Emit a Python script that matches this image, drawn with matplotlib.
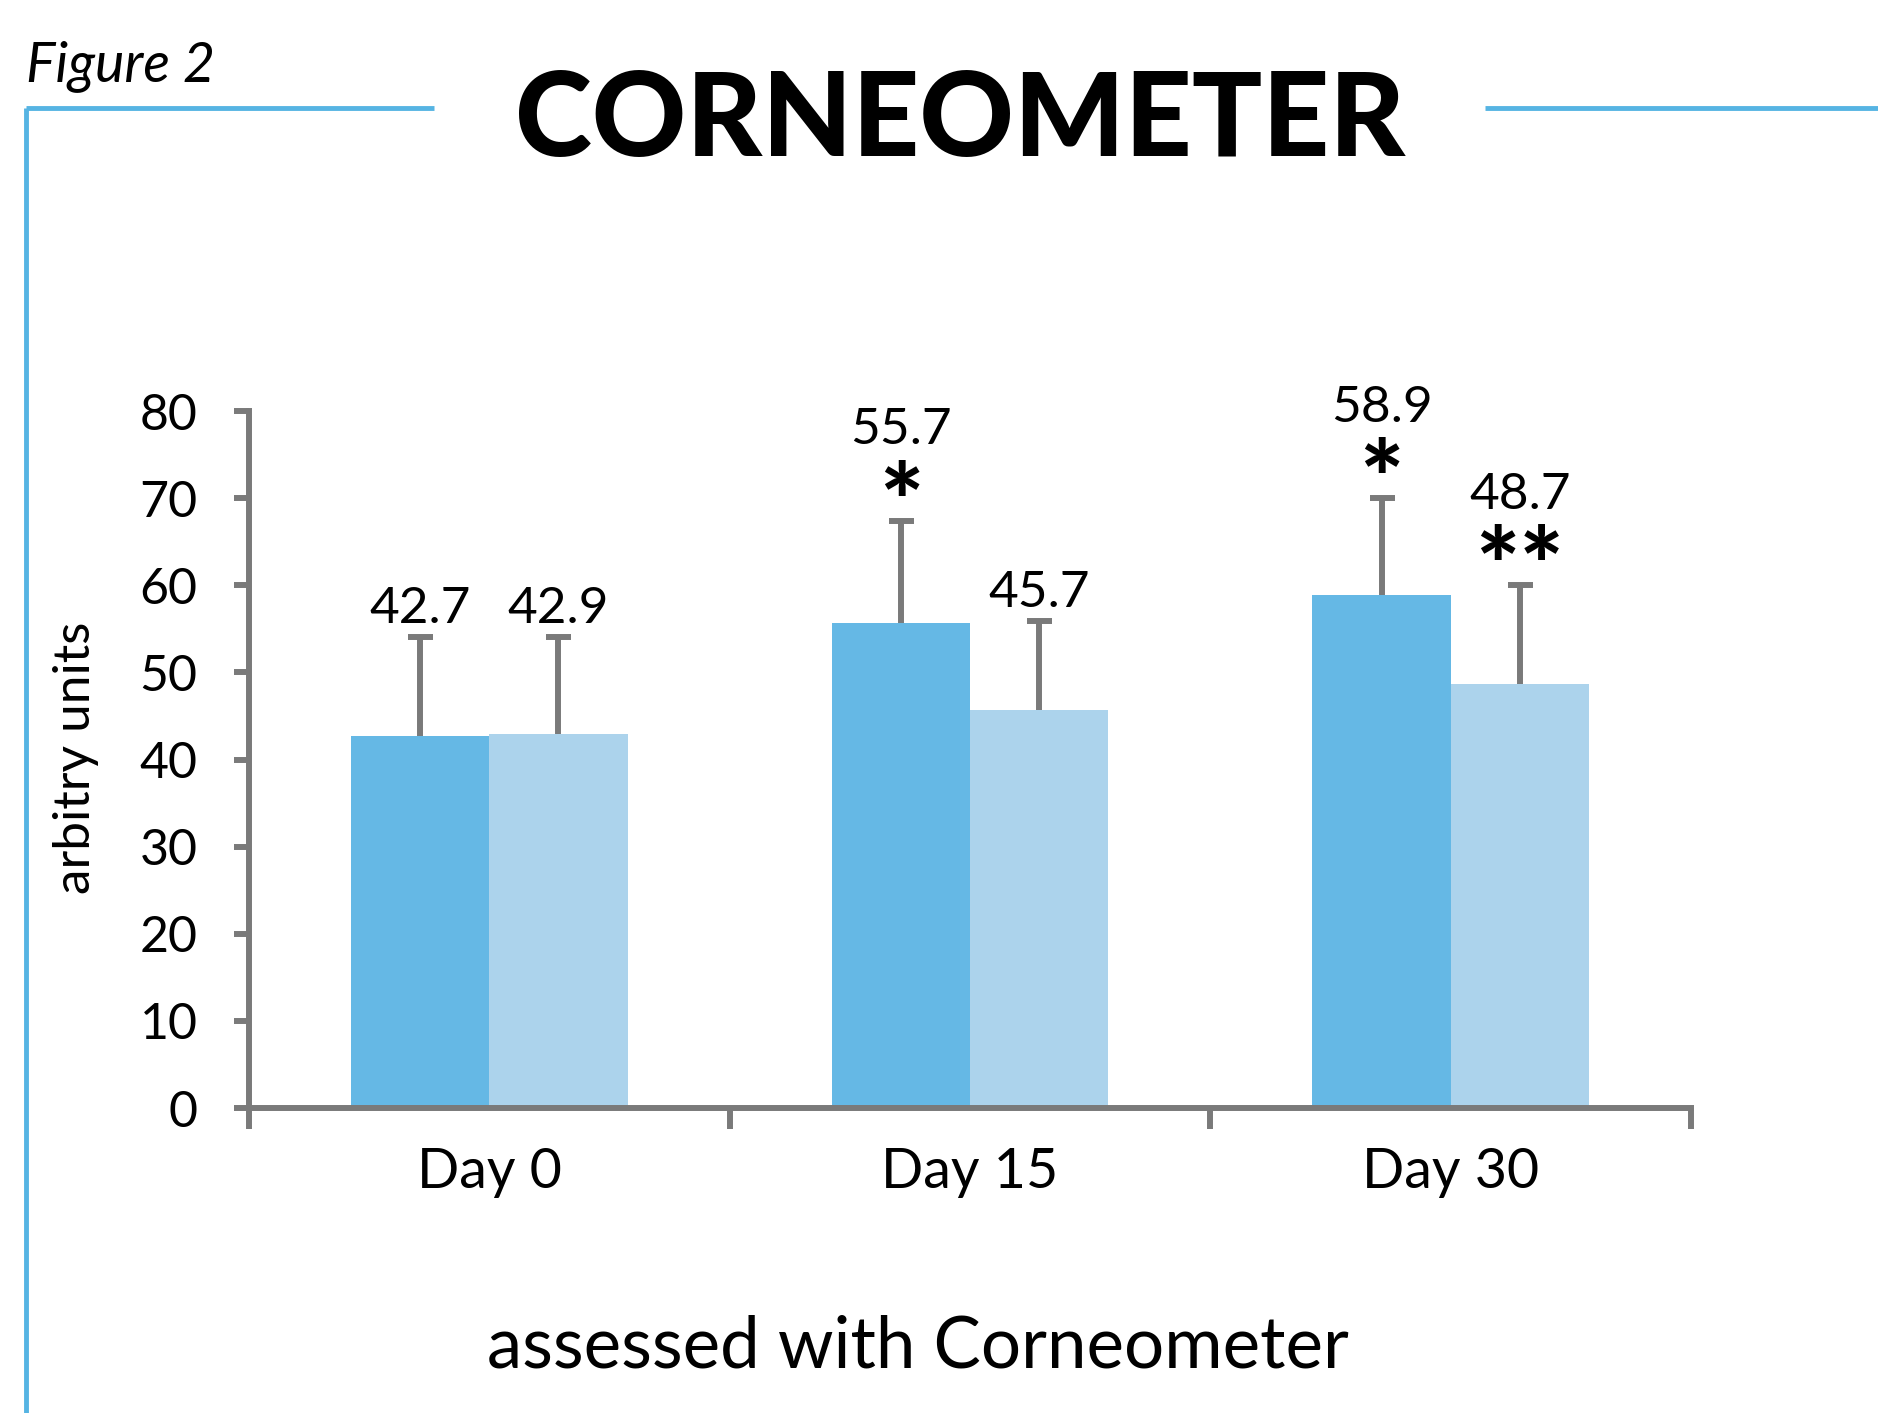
import numpy as np
import matplotlib
matplotlib.use('Agg')
import matplotlib.pyplot as plt
from matplotlib.lines import Line2D

plt.rcParams['font.family'] = ['Lato', 'DejaVu Sans']

days = ['Day 0', 'Day 15', 'Day 30']
dark_vals = [42.7, 55.7, 58.9]
light_vals = [42.9, 45.7, 48.7]
dark_err = [11.4, 11.7, 11.1]
light_err = [11.2, 10.2, 11.3]
dark_stars = ['', '*', '*']
light_stars = ['', '', '**']

dark = '#65b8e5'
light = '#acd3ec'
gray = '#7a7a7a'
frame_blue = '#56b4e3'

fig = plt.figure(figsize=(18.78, 14.13), dpi=100)
ax = fig.add_axes([0.1326, 0.2158, 0.7678, 0.4933])

x = np.arange(len(days))
w = 0.2875

for xs, vals, errs, stars, col in [(x - w/2, dark_vals, dark_err, dark_stars, dark),
                                   (x + w/2, light_vals, light_err, light_stars, light)]:
    vals = np.array(vals)
    tops = vals + np.array(errs)
    ax.bar(xs, vals, w, color=col, linewidth=0, zorder=2)
    # upper whisker only, cap drawn as a marker
    ax.vlines(xs, vals, tops, color=gray, lw=4.3, zorder=1)
    ax.plot(xs, tops, ls='none', marker='_', markersize=18, mew=4.3, color=gray,
            zorder=1, clip_on=False)
    for xi, v, top, s in zip(xs, vals, tops, stars):
        if s:
            ax.annotate(s, xy=(xi, top), xytext=(0, -13), textcoords='offset points',
                        ha='center', va='baseline', fontsize=75, fontweight='black',
                        annotation_clip=False)
            off = 55
        else:
            off = 10
        ax.annotate(f'{v:.1f}', xy=(xi, top), xytext=(0, off), textcoords='offset points',
                    ha='center', va='baseline', fontsize=37, annotation_clip=False)

ax.set_xlim(-0.5, 2.5)
ax.set_ylim(0, 80)
for sp in ['top', 'right']:
    ax.spines[sp].set_visible(False)
for sp in ['left', 'bottom']:
    ax.spines[sp].set_color(gray)
    ax.spines[sp].set_linewidth(4.3)

ax.set_yticks(np.arange(0, 81, 10))
ax.tick_params(axis='y', direction='out', length=11, width=4.3, color=gray,
               labelsize=36, pad=26)
ax.set_xticks([-0.5, 0.5, 1.5, 2.5])
ax.set_xticklabels([])
ax.set_xticks(x, minor=True)
ax.set_xticklabels(days, minor=True)
ax.tick_params(axis='x', which='major', direction='out', length=15, width=4.3, color=gray)
ax.tick_params(axis='x', which='minor', length=0, labelsize=40, pad=28)

fig.text(0.0405, 0.464, 'arbitry units', rotation=90, ha='center', va='center', fontsize=37)
fig.text(0.489, 0.047, 'assessed with Corneometer', ha='center', va='center', fontsize=51)
fig.text(0.511, 0.914, 'CORNEOMETER', ha='center', va='center', fontsize=84, fontweight='black')
fig.text(0.0138, 0.9427, 'Figure 2', ha='left', va='baseline', fontsize=40, style='italic')

# blue frame
fig.add_artist(Line2D([0.0138, 0.231], [0.9236, 0.9236], color=frame_blue, lw=3.5,
                      solid_capstyle='butt'))
fig.add_artist(Line2D([0.0138, 0.0138], [0.9236, 0.0], color=frame_blue, lw=3.5,
                      solid_capstyle='butt'))
fig.add_artist(Line2D([0.791, 1.0], [0.9236, 0.9236], color=frame_blue, lw=3.5,
                      solid_capstyle='butt'))

fig.savefig('out.png', dpi=100)
